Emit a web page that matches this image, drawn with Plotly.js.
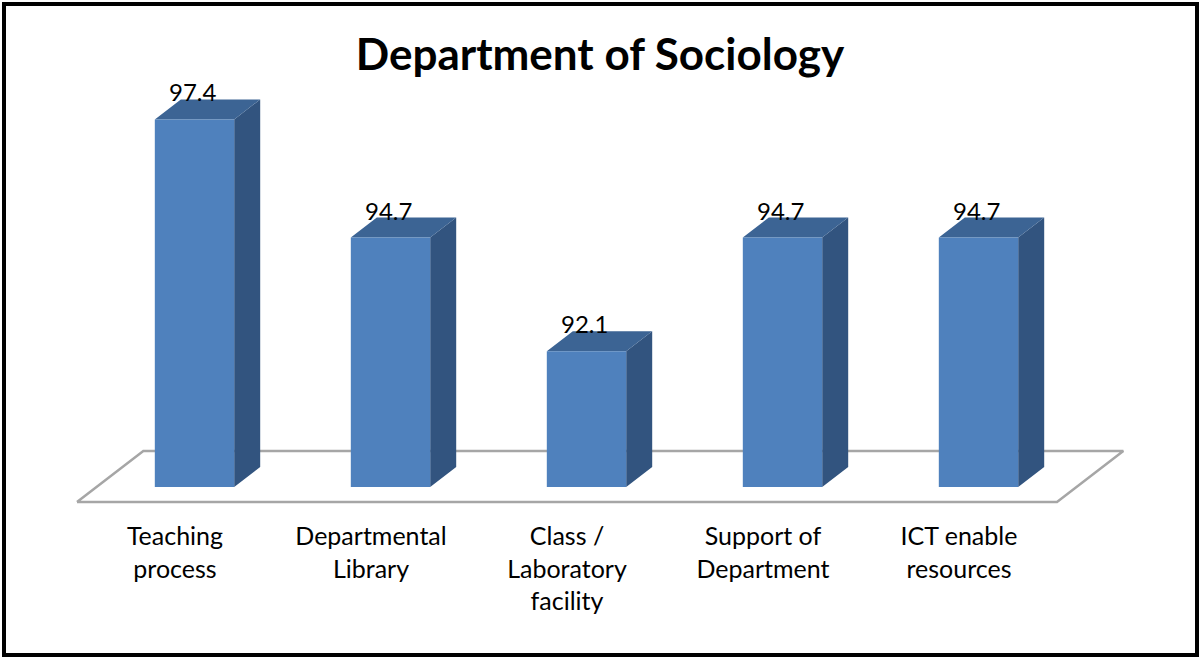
<!DOCTYPE html>
<html>
<head>
<meta charset="utf-8">
<script src="https://cdn.plot.ly/plotly-3.0.1.min.js"></script>
<style>
  html, body { margin: 0; padding: 0; background: #fff; }
  #chart { width: 1199px; height: 658px; }
  #frame { position: absolute; left: 2px; top: 2px; width: 1197px; height: 655px;
           box-sizing: border-box; border: 4px solid #000; pointer-events: none; }
</style>
</head>
<body>
<div id="chart"></div>
<div id="frame"></div>
<script>
// ---- data ----
const categories = ["Teaching<br>process", "Departmental<br>Library", "Class /<br>Laboratory<br>facility", "Support of<br>Department", "ICT enable<br>resources"];
const values = [97.4, 94.7, 92.1, 94.7, 94.7];
const labels = ["97.4", "94.7", "92.1", "94.7", "94.7"];

// ---- pseudo-3D geometry (in axis units) ----
const base = 89;          // value axis floor
const barW = 0.405;       // front face width (category units)
const dX = 0.1327;        // depth offset along x per unit depth
const dY = 0.457;         // depth offset along value axis per unit depth
const floorFront = -0.75, floorBack = 1.8;
const idx = values.map((_, i) => i);

function P(x, t, v) { return [x + t * dX, v + t * dY]; }

const traces = [];
// floor
const fc = [P(-0.5, floorFront, base), P(4.5, floorFront, base), P(4.5, floorBack, base), P(-0.5, floorBack, base), P(-0.5, floorFront, base)];
traces.push({
  type: 'scatter', mode: 'lines', x: fc.map(p => p[0]), y: fc.map(p => p[1]),
  fill: 'toself', fillcolor: '#ffffff', line: { color: '#a6a6a6', width: 2.5 }, hoverinfo: 'skip'
});

function faceTrace(polyFn, color) {
  const xs = [], ys = [];
  idx.forEach(i => {
    const pts = polyFn(i, values[i]);
    pts.forEach(p => { xs.push(p[0]); ys.push(p[1]); });
    xs.push(null); ys.push(null);
  });
  return { type: 'scatter', mode: 'lines', x: xs, y: ys, fill: 'toself', fillcolor: color,
           line: { width: 0, color: color }, hoverinfo: 'skip', connectgaps: false };
}
// side faces
traces.push(faceTrace((i, v) => {
  const x1 = i + barW / 2;
  return [P(x1, 0, base), P(x1, 1, base), P(x1, 1, v), P(x1, 0, v), P(x1, 0, base)];
}, '#32547f'));
// top faces
traces.push(faceTrace((i, v) => {
  const x0 = i - barW / 2, x1 = i + barW / 2;
  return [P(x0, 0, v), P(x1, 0, v), P(x1, 1, v), P(x0, 1, v), P(x0, 0, v)];
}, '#3c6494'));
// front faces
traces.push(faceTrace((i, v) => {
  const x0 = i - barW / 2, x1 = i + barW / 2;
  return [P(x0, 0, base), P(x1, 0, base), P(x1, 0, v), P(x0, 0, v), P(x0, 0, base)];
}, '#4f81bd'));

const annotations = idx.map(i => ({
  x: i - 0.01, y: values[i] + dY, xref: 'x', yref: 'y', text: labels[i], showarrow: false,
  yanchor: 'bottom', yshift: -9, font: { family: 'Lato, sans-serif', size: 24, color: '#000' }
}));

const layout = {
  width: 1199, height: 658,
  margin: { l: 60, r: 59, t: 80, b: 143 },
  paper_bgcolor: '#fff', plot_bgcolor: 'rgba(0,0,0,0)',
  showlegend: false,
  title: { text: '<b>Department of Sociology</b>', x: 0.5, xanchor: 'center', xref: 'paper',
           y: 1 - 55 / 658, yanchor: 'middle', yref: 'container',
           font: { family: 'Lato, sans-serif', size: 44, color: '#000' } },
  xaxis: {
    range: [(60 - 194.5) / 196, (1140 - 194.5) / 196],
    tickvals: idx.map(i => i + floorFront * dX), ticktext: categories,
    showgrid: false, zeroline: false, showline: false, ticks: '', ticklabelstandoff: 4,
    tickfont: { family: 'Lato, sans-serif', size: 25, color: '#000' }, fixedrange: true
  },
  yaxis: {
    range: [88.36, 98.30], visible: false, showgrid: false, zeroline: false, fixedrange: true
  },
  annotations: annotations
};

Plotly.newPlot('chart', traces, layout, { staticPlot: true, displayModeBar: false });
</script>
</body>
</html>
